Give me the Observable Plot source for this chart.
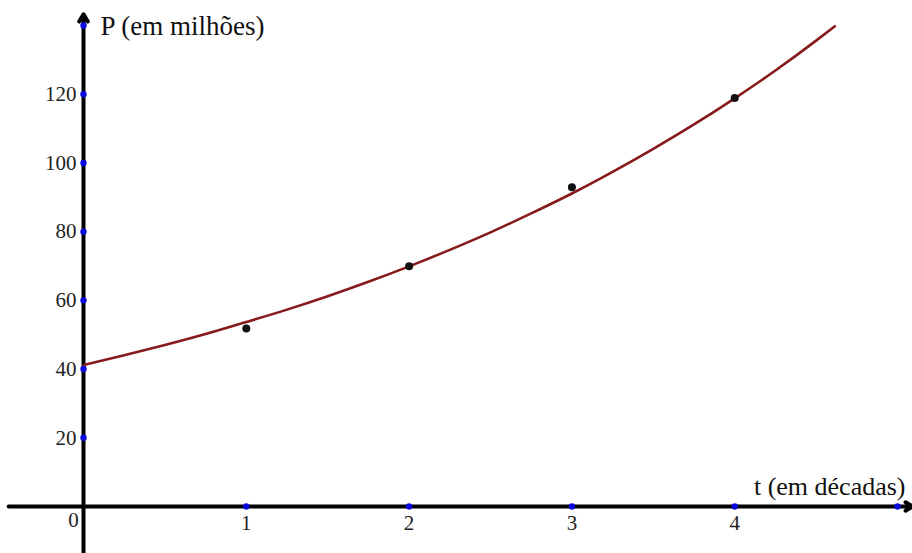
<!DOCTYPE html>
<html>
<head>
<meta charset="utf-8">
<script src="https://cdn.jsdelivr.net/npm/d3@7"></script>
<script src="https://cdn.jsdelivr.net/npm/@observablehq/plot@0.6"></script>
<style>
  html, body { margin: 0; padding: 0; background: #fff; }
  #chart svg { display: block; }
  #chart svg text { font-family: "Liberation Serif", "DejaVu Serif", serif !important; }
</style>
</head>
<body>
<div id="chart"></div>
<script>
// Observed data points (t in decades, P in millions)
const pointT = [1, 2, 3, 4];
const pointP = [51.8, 69.9, 92.9, 118.9];

// Fitted curve
const curveT = [0, 0.25, 0.5, 0.75, 1, 1.25, 1.5, 1.75, 2, 2.25, 2.5, 2.75, 3, 3.25, 3.5, 3.75, 4, 4.25, 4.5, 4.615];
const curveP = [41.2, 44.0, 47.0, 50.2, 53.7, 57.3, 61.2, 65.4, 69.9, 74.7, 79.8, 85.3, 91.1, 97.4, 104.1, 111.2, 118.8, 126.9, 135.6, 139.8];

// Axis ticks
const xTickDots = [1, 2, 3, 4, 5];
const xTickLabels = ["1", "2", "3", "4"];
const yTickDots = [20, 40, 60, 80, 100, 120, 140];
const yTickLabels = ["20", "40", "60", "80", "100", "120"];

const xLabel = "t (em décadas)";
const yLabel = "P (em milhões)";

const points = pointT.map((t, i) => ({t, p: pointP[i]}));
const curve = curveT.map((t, i) => ({t, p: curveP[i]}));

const serif = "Liberation Serif";

const chart = Plot.plot({
  width: 912,
  height: 553,
  margin: 0,
  style: {fontFamily: serif, background: "#fff", overflow: "visible"},
  x: {domain: [0, 5], range: [83, 897], axis: null},
  y: {domain: [0, 140], range: [506, 25], axis: null},
  marks: [
    // axes with arrowheads
    Plot.arrow([0], {x1: -0.46, x2: 5.095, y1: 0, y2: 0, stroke: "#000", strokeWidth: 4, headLength: 3.2, headAngle: 60}),
    Plot.arrow([0], {x1: 0, x2: 0, y1: -14, y2: 143.3, stroke: "#000", strokeWidth: 4, headLength: 3.2, headAngle: 60}),
    // fitted curve
    Plot.line(curve, {x: "t", y: "p", stroke: "#861a1c", strokeWidth: 2.6, curve: "monotone-x"}),
    // data points
    Plot.dot(points, {x: "t", y: "p", r: 4, fill: "#111", stroke: "none"}),
    // tick dots
    Plot.dot(xTickDots, {x: d => d, y: 0, r: 3.2, fill: "#0a0ae0"}),
    Plot.dot(yTickDots, {x: 0, y: d => d, r: 3.2, fill: "#0a0ae0"}),
    // tick labels
    Plot.text(xTickLabels, {x: d => +d, y: 0, text: d => d, dy: 17, fontSize: 21, fill: "#222", fontFamily: serif}),
    Plot.text(["0"], {x: 0, y: 0, text: d => d, dx: -10, dy: 14, fontSize: 21, fill: "#222", fontFamily: serif}),
    Plot.text(yTickLabels, {x: 0, y: d => +d, text: d => d, dx: -7, textAnchor: "end", fontSize: 21, fill: "#222", fontFamily: serif}),
    // axis titles
    Plot.text([yLabel], {x: 0, y: 140, text: d => d, dx: 17, dy: 1, textAnchor: "start", fontSize: 27, fill: "#111", fontFamily: serif}),
    Plot.text([xLabel], {x: 5, y: 0, text: d => d, dx: 8, dy: -20, textAnchor: "end", fontSize: 26, fill: "#111", fontFamily: serif})
  ]
});
document.getElementById("chart").append(chart);
</script>
</body>
</html>
